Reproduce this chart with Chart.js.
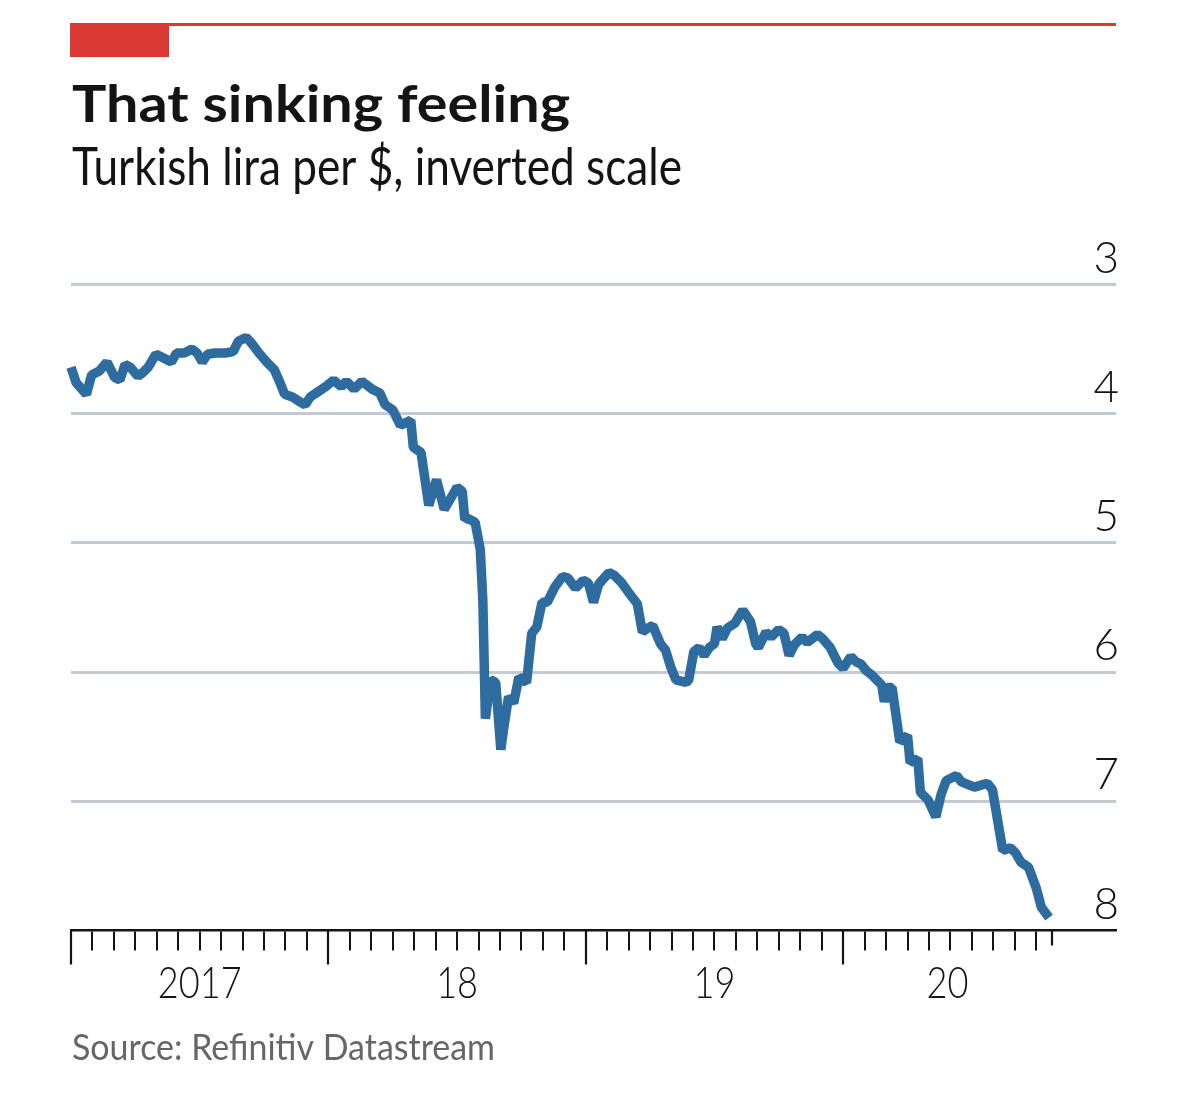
<!DOCTYPE html>
<html>
<head>
<meta charset="utf-8">
<script src="https://cdn.jsdelivr.net/npm/chart.js@4.4.1/dist/chart.umd.min.js"></script>
<style>
  html, body { margin: 0; background: #fff; }
  canvas { display: block; }
</style>
</head>
<body>
<canvas id="chart" width="1200" height="1111" style="width:1200px;height:1111px"></canvas>
<script>
// weekly-ish readings, x in decimal years
const dates = [
  2017.00, 2017.02, 2017.06, 2017.08, 2017.11, 2017.14, 2017.17, 2017.19, 2017.21, 2017.23,
  2017.26, 2017.28, 2017.30, 2017.33, 2017.35, 2017.39, 2017.41, 2017.44, 2017.47, 2017.49,
  2017.51, 2017.53, 2017.56, 2017.60, 2017.63, 2017.65, 2017.68, 2017.70, 2017.73, 2017.76,
  2017.79, 2017.81, 2017.83, 2017.86, 2017.89, 2017.91, 2017.93, 2017.96, 2017.99,
  2018.02, 2018.05, 2018.07, 2018.10, 2018.13, 2018.15, 2018.17, 2018.20, 2018.22, 2018.25,
  2018.28, 2018.30, 2018.32, 2018.33, 2018.36, 2018.39, 2018.42, 2018.45, 2018.50, 2018.52,
  2018.53, 2018.54, 2018.57, 2018.59, 2018.60, 2018.61, 2018.63, 2018.65, 2018.67, 2018.68,
  2018.70, 2018.72, 2018.74, 2018.77, 2018.79, 2018.81, 2018.83, 2018.85, 2018.88, 2018.91,
  2018.93, 2018.96, 2018.99,
  2019.01, 2019.03, 2019.05, 2019.09, 2019.11, 2019.14, 2019.18, 2019.20, 2019.22, 2019.24,
  2019.26, 2019.29, 2019.31, 2019.33, 2019.35, 2019.39, 2019.40, 2019.42, 2019.44, 2019.46,
  2019.48, 2019.50, 2019.51, 2019.53, 2019.55, 2019.58, 2019.61, 2019.64, 2019.66, 2019.67,
  2019.70, 2019.72, 2019.75, 2019.77, 2019.79, 2019.81, 2019.84, 2019.86, 2019.90, 2019.92,
  2019.95, 2019.98,
  2020.00, 2020.03, 2020.05, 2020.07, 2020.09, 2020.11, 2020.13, 2020.15, 2020.16, 2020.17,
  2020.19, 2020.22, 2020.25, 2020.26, 2020.29, 2020.30, 2020.33, 2020.36, 2020.38, 2020.40,
  2020.44, 2020.46, 2020.51, 2020.56, 2020.58, 2020.62, 2020.65, 2020.67, 2020.69, 2020.72,
  2020.75, 2020.77, 2020.80
];
const liraPerDollar = [
  3.64, 3.76, 3.85, 3.70, 3.67, 3.60, 3.72, 3.74, 3.62, 3.64,
  3.71, 3.68, 3.64, 3.54, 3.56, 3.60, 3.53, 3.53, 3.50, 3.53,
  3.60, 3.54, 3.53, 3.53, 3.52, 3.44, 3.41, 3.45, 3.53, 3.60,
  3.66, 3.75, 3.85, 3.87, 3.91, 3.93, 3.87, 3.83, 3.79,
  3.74, 3.79, 3.75, 3.81, 3.75, 3.78, 3.81, 3.84, 3.93, 3.97,
  4.09, 4.07, 4.05, 4.26, 4.30, 4.71, 4.51, 4.74, 4.57, 4.60,
  4.82, 4.81, 4.84, 5.05, 5.44, 6.36, 6.06, 6.08, 6.60, 6.45,
  6.19, 6.24, 6.04, 6.08, 5.70, 5.65, 5.46, 5.46, 5.34, 5.26,
  5.27, 5.35, 5.29,
  5.31, 5.46, 5.32, 5.23, 5.25, 5.31, 5.42, 5.47, 5.69, 5.66,
  5.64, 5.78, 5.83, 5.96, 6.06, 6.08, 6.06, 5.84, 5.81, 5.87,
  5.81, 5.78, 5.65, 5.74, 5.66, 5.62, 5.52, 5.61, 5.78, 5.81,
  5.69, 5.73, 5.67, 5.70, 5.87, 5.79, 5.73, 5.77, 5.71, 5.74,
  5.81, 5.93,
  5.97, 5.88, 5.92, 5.94, 5.99, 6.02, 6.06, 6.10, 6.23, 6.12,
  6.12, 6.54, 6.49, 6.70, 6.67, 6.93, 6.99, 7.12, 6.95, 6.84,
  6.80, 6.85, 6.89, 6.86, 6.91, 7.38, 7.36, 7.40, 7.47, 7.51,
  7.67, 7.82, 7.90
];

const yTicks = [3, 4, 5, 6, 7, 8];
const yearStarts = [2017, 2018, 2019, 2020];
const yearLabels = ['2017', '18', '19', '20'];
// the last year label sits midway between Jan 2020 and the latest reading
const yearLabelAt = [2017.5, 2018.5, 2019.5, 2020.405];
const lastDataTick = 2020.81;

const RED = '#db3a34';
const BLUE = '#2e6ca0';
const INK = '#141414';

// monthly tick marks, Jan 2017 to Oct 2020
const monthTicks = [];
for (let m = 0; m <= 45; m++) monthTicks.push(2017 + m / 12);

function fitText(ctx, text, x, y, width, font, color) {
  ctx.save();
  ctx.font = font;
  const w = ctx.measureText(text).width;
  ctx.translate(x, y);
  ctx.scale(width / w, 1);
  ctx.fillStyle = color;
  ctx.textBaseline = 'alphabetic';
  ctx.textAlign = 'left';
  ctx.fillText(text, 0, 0);
  ctx.restore();
}

function squeezedText(ctx, text, cx, y, sx, font, color) {
  ctx.save();
  ctx.font = font;
  ctx.translate(cx, y);
  ctx.scale(sx, 1);
  ctx.fillStyle = color;
  ctx.textBaseline = 'alphabetic';
  ctx.textAlign = 'center';
  ctx.fillText(text, 0, 0);
  ctx.restore();
}

const chrome = {
  id: 'chrome',
  beforeDraw(chart) {
    const ctx = chart.ctx;
    ctx.save();
    ctx.fillStyle = '#fff';
    ctx.fillRect(0, 0, chart.width, chart.height);
    ctx.fillStyle = RED;
    ctx.fillRect(70, 23, 1046, 3);
    ctx.fillRect(70, 23, 99, 34);
    ctx.restore();
    fitText(ctx, 'That sinking feeling', 72, 122, 498, 'bold 51px Lato', INK);
    fitText(ctx, 'Turkish lira per $, inverted scale', 72, 185, 610, '52px Lato', INK);
    fitText(ctx, 'Source: Refinitiv Datastream', 72, 1060, 423, '36px Lato', '#666');
  },
  afterDraw(chart) {
    const ctx = chart.ctx;
    const xs = chart.scales.x;
    const base = chart.chartArea.bottom;
    ctx.save();
    ctx.strokeStyle = INK;
    ctx.lineWidth = 2.2;
    ctx.beginPath();
    yearStarts.forEach(v => {
      const px = Math.round(xs.getPixelForValue(v));
      ctx.moveTo(px, base);
      ctx.lineTo(px, base + 34);
    });
    const endPx = Math.round(xs.getPixelForValue(lastDataTick));
    ctx.moveTo(endPx, base);
    ctx.lineTo(endPx, base + 15);
    ctx.stroke();
    ctx.restore();
    yearLabels.forEach((t, i) => {
      squeezedText(ctx, t, xs.getPixelForValue(yearLabelAt[i]), 998, 0.84, '300 43px Lato', INK);
    });
  }
};

new Chart(document.getElementById('chart'), {
  type: 'line',
  data: {
    datasets: [{
      data: dates.map((d, i) => ({ x: d, y: liraPerDollar[i] })),
      borderColor: BLUE,
      borderWidth: 9.5,
      borderJoinStyle: 'bevel',
      pointRadius: 0,
      tension: 0,
      clip: false,
    }],
  },
  options: {
    responsive: false,
    animation: false,
    devicePixelRatio: 1,
    layout: { padding: { left: 71, right: 84, top: 284.5, bottom: 180.5 } },
    plugins: { legend: { display: false }, tooltip: { enabled: false } },
    scales: {
      x: {
        type: 'linear',
        min: 2017,
        max: 2021.06,
        afterBuildTicks: s => { s.ticks = monthTicks.map(v => ({ value: v })); },
        afterFit: s => { s.height = 0; },
        grid: { drawOnChartArea: false, drawTicks: true, tickLength: 20, color: INK, lineWidth: 2 },
        border: { display: true, color: INK, width: 2.5 },
        ticks: { display: false },
      },
      y: {
        type: 'linear',
        position: 'right',
        reverse: true,
        min: 3,
        max: 8,
        afterBuildTicks: s => { s.ticks = yTicks.map(v => ({ value: v })); },
        afterFit: s => { s.width = 0; },
        grid: {
          color: c => (c.tick && c.tick.value === 8 ? 'rgba(0,0,0,0)' : '#c3cad1'),
          lineWidth: 3,
          drawTicks: false,
        },
        border: { display: false },
        ticks: {
          mirror: true,
          padding: 3,
          labelOffset: -26,
          color: INK,
          font: { family: 'Lato', size: 44, weight: '300' },
        },
      },
    },
  },
  plugins: [chrome],
});
</script>
</body>
</html>
